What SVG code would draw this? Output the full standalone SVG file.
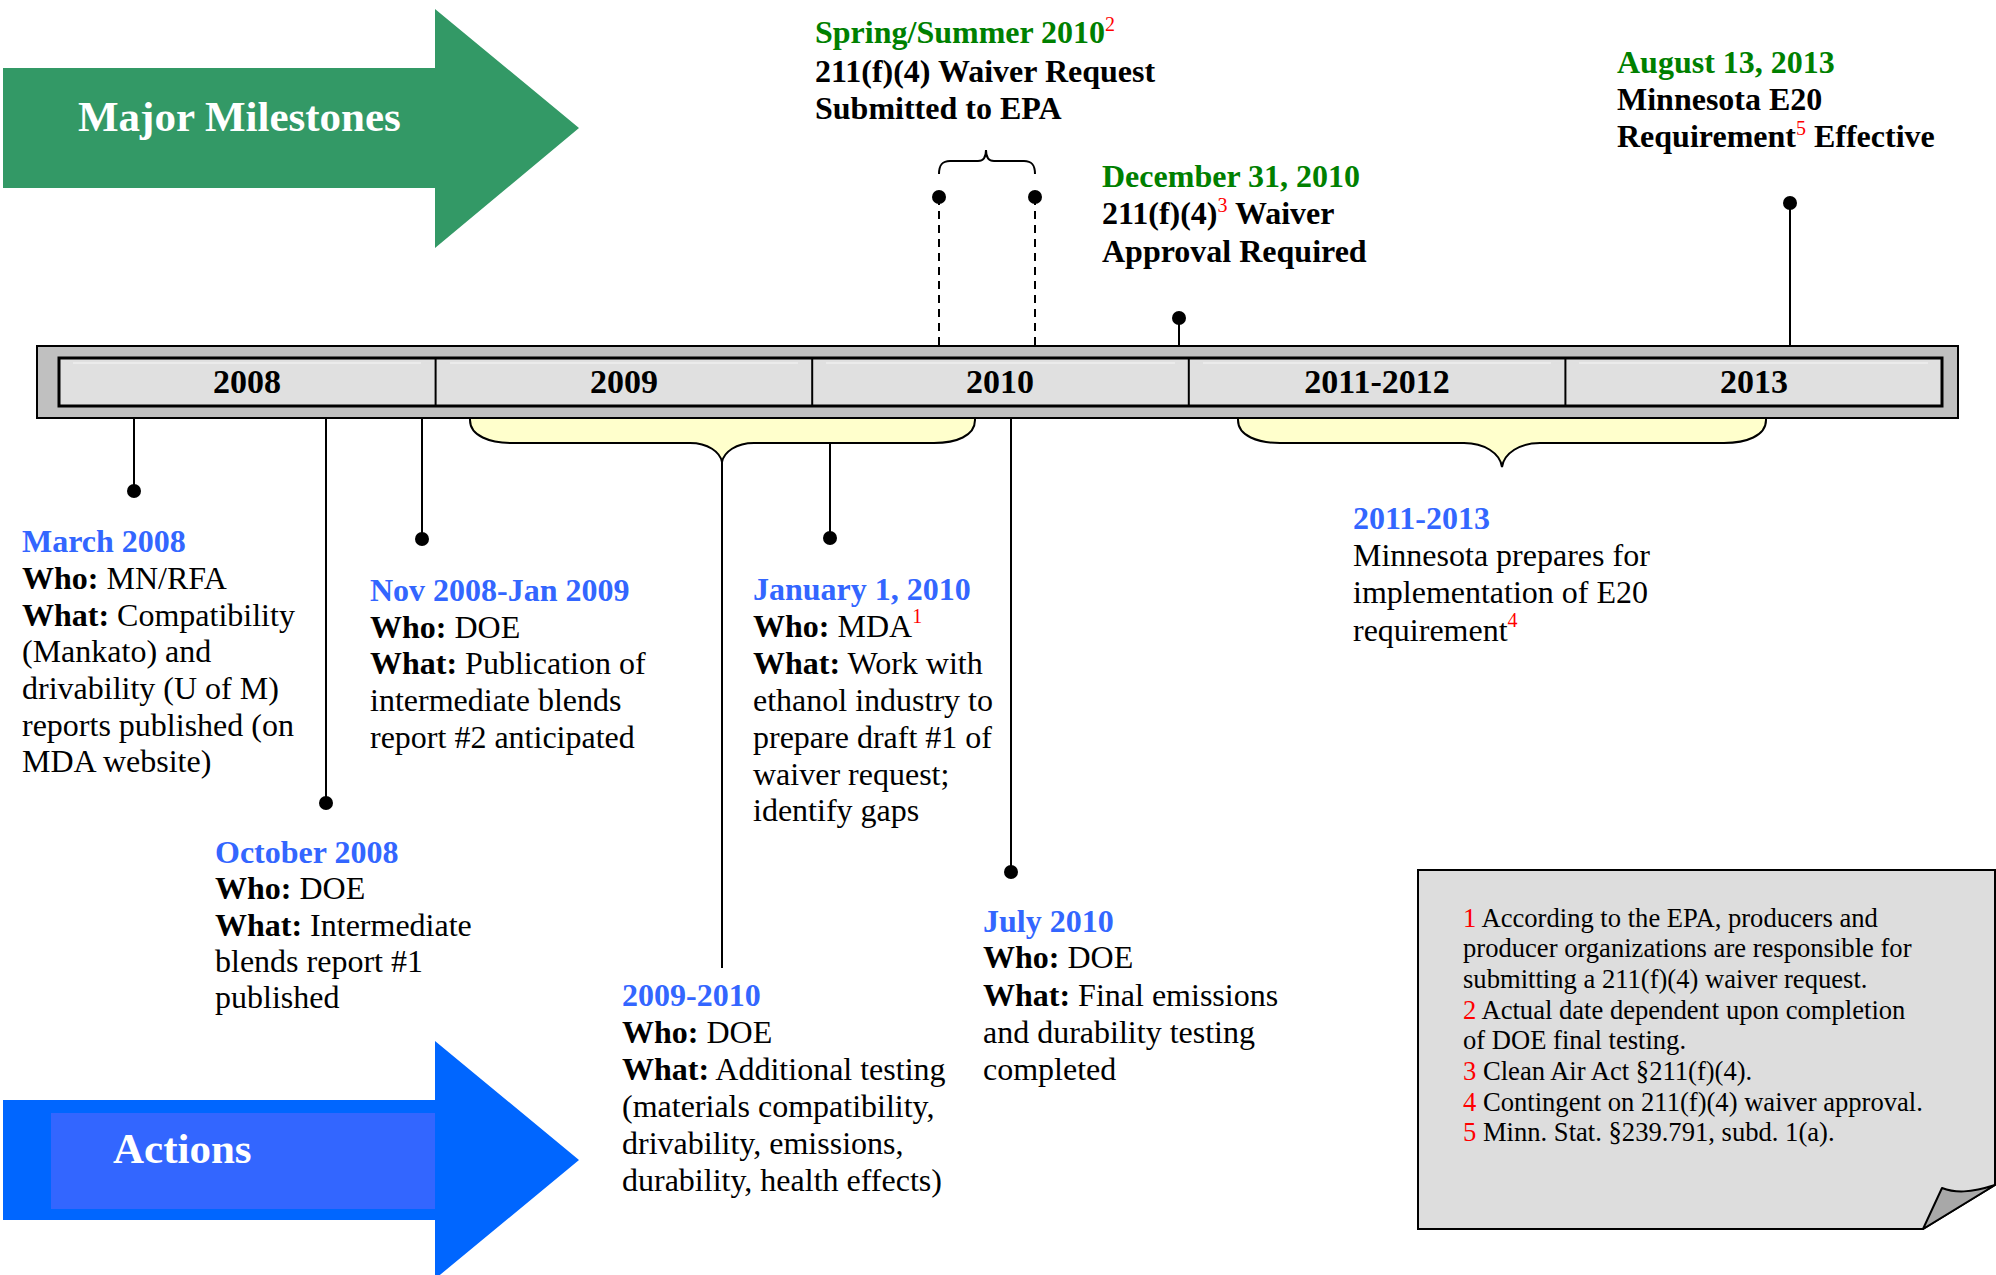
<svg xmlns="http://www.w3.org/2000/svg" width="1996" height="1275" viewBox="0 0 1996 1275">
<style>
text{font-family:"Liberation Serif","Times New Roman",serif;font-size:32px;fill:#000}
.b{font-weight:bold}
.blue{fill:#3366FF;font-weight:bold}
.green{fill:#008000;font-weight:bold}
.sup{fill:#FF0000;font-size:20px;font-weight:normal}
.red{fill:#FF0000}
.yr{font-weight:bold;font-size:34px;text-anchor:middle}
.big{font-weight:bold;font-size:43px;fill:#FFFFFF}
.fn{font-size:26.6px}
.ln{stroke:#000;stroke-width:2;fill:none}
.dash{stroke:#000;stroke-width:2;stroke-dasharray:8,6;fill:none}
.dot{fill:#000}
.brace{fill:#FFFFCC;stroke:#000;stroke-width:2}
</style>
<rect width="1996" height="1275" fill="#FFFFFF"/>

<g id="major-milestones">
<polygon points="3,68 435,68 435,9 579,128 435,248 435,188 3,188" fill="#339966"/>
<text class="big" x="78" y="131">Major Milestones</text>
</g>

<g id="actions">
<polygon points="3,1100 435,1100 435,1041 579,1160 435,1279 435,1220 3,1220" fill="#0066FF"/>
<rect x="51" y="1113" width="384" height="96" fill="#3366FF"/>
<text class="big" x="113" y="1163">Actions</text>
</g>

<g id="braces">
<path class="brace" d="M470,414 V420 C470,436 490,443 512,443 H690 C708,443 720,452 722,462 C724,452 736,443 754,443 H934 C956,443 975,436 975,420 V414 Z"/>
<path class="brace" d="M1238,414 V420 C1238,436 1258,443 1280,443 H1464 C1484,443 1500,453 1502,467 C1504,453 1520,443 1540,443 H1724 C1746,443 1766,436 1766,420 V414 Z"/>
</g>

<g id="connectors">
<line class="ln" x1="134" y1="418" x2="134" y2="491"/>
<circle class="dot" cx="134" cy="491" r="7"/>
<line class="ln" x1="326" y1="418" x2="326" y2="803"/>
<circle class="dot" cx="326" cy="803" r="7"/>
<line class="ln" x1="422" y1="418" x2="422" y2="539"/>
<circle class="dot" cx="422" cy="539" r="7"/>
<line class="ln" x1="722" y1="462" x2="722" y2="968"/>
<line class="ln" x1="830" y1="443" x2="830" y2="538"/>
<circle class="dot" cx="830" cy="538" r="7"/>
<line class="ln" x1="1011" y1="416" x2="1011" y2="872"/>
<circle class="dot" cx="1011" cy="872" r="7"/>
<line class="dash" x1="939" y1="197" x2="939" y2="346"/>
<line class="dash" x1="1035" y1="197" x2="1035" y2="346"/>
<circle class="dot" cx="939" cy="197" r="7"/>
<circle class="dot" cx="1035" cy="197" r="7"/>
<path class="ln" d="M939,174 C939,165 942,161 950,161 H978 C983,161 986,157 986,150 C986,157 989,161 994,161 H1024 C1032,161 1035,165 1035,174"/>
<line class="ln" x1="1179" y1="318" x2="1179" y2="346"/>
<circle class="dot" cx="1179" cy="318" r="7"/>
<line class="ln" x1="1790" y1="203" x2="1790" y2="346"/>
<circle class="dot" cx="1790" cy="203" r="7"/>
</g>

<g id="timeline-bar">
<rect x="37" y="346" width="1921" height="72" fill="#C0C0C0" stroke="#000" stroke-width="2"/>
<rect x="59" y="358" width="1883" height="48" fill="#E0E0E0" stroke="#000" stroke-width="3"/>
<g stroke="#EBEBEB" stroke-width="2">
<line x1="73" y1="363" x2="421" y2="363"/>
<line x1="450" y1="363" x2="798" y2="363"/>
<line x1="826" y1="363" x2="1175" y2="363"/>
<line x1="1203" y1="363" x2="1551" y2="363"/>
<line x1="1579" y1="363" x2="1928" y2="363"/>
</g>
<g stroke="#000" stroke-width="2">
<line x1="435.6" y1="358" x2="435.6" y2="406"/>
<line x1="812.2" y1="358" x2="812.2" y2="406"/>
<line x1="1188.8" y1="358" x2="1188.8" y2="406"/>
<line x1="1565.4" y1="358" x2="1565.4" y2="406"/>
</g>
<text class="yr" x="247" y="393">2008</text>
<text class="yr" x="624" y="393">2009</text>
<text class="yr" x="1000" y="393">2010</text>
<text class="yr" x="1377" y="393">2011-2012</text>
<text class="yr" x="1754" y="393">2013</text>
</g>

<g id="spring-summer-2010">
<text x="815" y="43"><tspan class="green">Spring/Summer 2010</tspan><tspan class="sup" dy="-12">2</tspan></text>
<text class="b" x="815" y="82">211(f)(4) Waiver Request</text>
<text class="b" x="815" y="119">Submitted to EPA</text>
</g>

<g id="december-31-2010">
<text class="green" x="1102" y="187">December 31, 2010</text>
<text class="b" x="1102" y="224">211(f)(4)<tspan class="sup" dy="-12">3</tspan><tspan dy="12"> Waiver</tspan></text>
<text class="b" x="1102" y="262">Approval Required</text>
</g>

<g id="august-13-2013">
<text class="green" x="1617" y="73">August 13, 2013</text>
<text class="b" x="1617" y="110">Minnesota E20</text>
<text class="b" x="1617" y="147">Requirement<tspan class="sup" dy="-12">5</tspan><tspan dy="12"> Effective</tspan></text>
</g>

<g id="march-2008">
<text class="blue" x="22" y="552">March 2008</text>
<text x="22" y="589"><tspan class="b">Who:</tspan> MN/RFA</text>
<text x="22" y="626"><tspan class="b">What:</tspan> Compatibility</text>
<text x="22" y="662">(Mankato) and</text>
<text x="22" y="699">drivability (U of M)</text>
<text x="22" y="736">reports published (on</text>
<text x="22" y="772">MDA website)</text>
</g>

<g id="october-2008">
<text class="blue" x="215" y="863">October 2008</text>
<text x="215" y="899"><tspan class="b">Who:</tspan> DOE</text>
<text x="215" y="936"><tspan class="b">What:</tspan> Intermediate</text>
<text x="215" y="972">blends report #1</text>
<text x="215" y="1008">published</text>
</g>

<g id="nov-2008-jan-2009">
<text class="blue" x="370" y="601">Nov 2008-Jan 2009</text>
<text x="370" y="638"><tspan class="b">Who:</tspan> DOE</text>
<text x="370" y="674"><tspan class="b">What:</tspan> Publication of</text>
<text x="370" y="711">intermediate blends</text>
<text x="370" y="748">report #2 anticipated</text>
</g>

<g id="january-1-2010">
<text class="blue" x="753" y="600">January 1, 2010</text>
<text x="753" y="637"><tspan class="b">Who:</tspan> MDA<tspan class="sup" dy="-14">1</tspan></text>
<text x="753" y="674"><tspan class="b">What:</tspan> Work with</text>
<text x="753" y="711">ethanol industry to</text>
<text x="753" y="748">prepare draft #1 of</text>
<text x="753" y="785">waiver request;</text>
<text x="753" y="821">identify gaps</text>
</g>

<g id="2009-2010">
<text class="blue" x="622" y="1006">2009-2010</text>
<text x="622" y="1043"><tspan class="b">Who:</tspan> DOE</text>
<text x="622" y="1080"><tspan class="b">What:</tspan> Additional testing</text>
<text x="622" y="1117">(materials compatibility,</text>
<text x="622" y="1154">drivability, emissions,</text>
<text x="622" y="1191">durability, health effects)</text>
</g>

<g id="july-2010">
<text class="blue" x="983" y="932">July 2010</text>
<text x="983" y="968"><tspan class="b">Who:</tspan> DOE</text>
<text x="983" y="1006"><tspan class="b">What:</tspan> Final emissions</text>
<text x="983" y="1043">and durability testing</text>
<text x="983" y="1080">completed</text>
</g>

<g id="2011-2013">
<text class="blue" x="1353" y="529">2011-2013</text>
<text x="1353" y="566">Minnesota prepares for</text>
<text x="1353" y="603">implementation of E20</text>
<text x="1353" y="641">requirement<tspan class="sup" dy="-14">4</tspan></text>
</g>

<g id="footnotes">
<path d="M1418,870 H1995 V1185 L1923,1229 H1418 Z" fill="#DDDDDD" stroke="#000" stroke-width="2"/>
<path d="M1923,1229 L1942,1188 C1955,1193 1970,1193 1995,1185 Z" fill="#A8A8A8" stroke="#000" stroke-width="2" stroke-linejoin="round"/>
<text class="fn" x="1463" y="927"><tspan class="red">1</tspan> According to the EPA, producers and</text>
<text class="fn" x="1463" y="957">producer organizations are responsible for</text>
<text class="fn" x="1463" y="988">submitting a 211(f)(4) waiver request.</text>
<text class="fn" x="1463" y="1019"><tspan class="red">2</tspan> Actual date dependent upon completion</text>
<text class="fn" x="1463" y="1049">of DOE final testing.</text>
<text class="fn" x="1463" y="1080"><tspan class="red">3</tspan> Clean Air Act §211(f)(4).</text>
<text class="fn" x="1463" y="1111"><tspan class="red">4</tspan> Contingent on 211(f)(4) waiver approval.</text>
<text class="fn" x="1463" y="1141"><tspan class="red">5</tspan> Minn. Stat. §239.791, subd. 1(a).</text>
</g>
</svg>
